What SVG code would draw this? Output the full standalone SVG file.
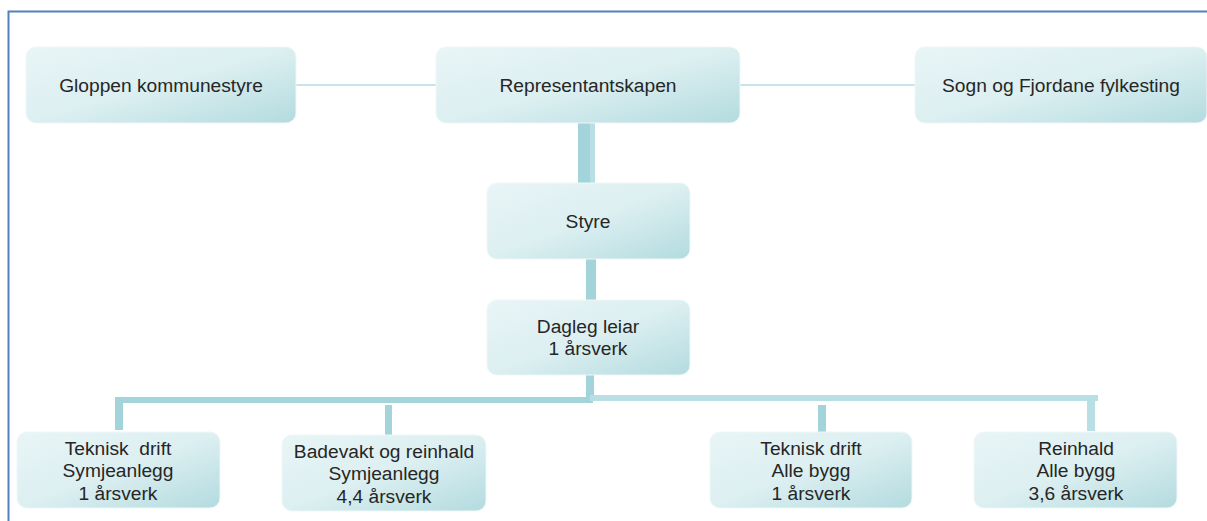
<svg xmlns="http://www.w3.org/2000/svg" width="1207" height="521" viewBox="0 0 1207 521">
<defs>
<linearGradient id="g" x1="0" y1="0" x2="1" y2="1">
<stop offset="0" stop-color="#e9f5f6"/>
<stop offset="0.5" stop-color="#dceff1"/>
<stop offset="1" stop-color="#b3dbdf"/>
</linearGradient>
<style>
.box{fill:url(#g);stroke:#eef7f8;stroke-width:1}
.t{font-family:"Liberation Sans",Arial,sans-serif;font-size:19.2px;fill:#262626;text-anchor:middle}
.thin{stroke:#b5dbe3;stroke-width:1.5;fill:none}
.thick{fill:#a2d4d9}
.light{fill:#b8e0e4}
</style>
</defs>
<rect width="1207" height="521" fill="#ffffff"/>
<path d="M8.5 521 V11.5 H1207" fill="none" stroke="#4f81bd" stroke-width="2"/>
<g id="connectors">
<line class="thin" x1="296" y1="85" x2="436" y2="85"/>
<line class="thin" x1="740" y1="85" x2="915" y2="85"/>
<rect class="thick" x="578" y="123" width="12" height="60"/>
<rect class="light" x="590" y="123" width="5" height="60"/>
<rect class="thick" x="586" y="258" width="10" height="42"/>
<rect class="thick" x="586" y="375" width="8" height="25"/>
<rect class="thick" x="115" y="397" width="478" height="6"/>
<rect class="light" x="590" y="395" width="508" height="6"/>
<rect class="thick" x="115" y="397" width="8" height="33"/>
<rect class="thick" x="385" y="405" width="7" height="30"/>
<rect class="thick" x="818" y="405" width="8" height="28"/>
<rect class="light" x="1087" y="399" width="8" height="32"/>
</g>
<g id="n1"><rect class="box" x="26" y="47" width="270" height="76" rx="10"/><text class="t" x="161" y="92">Gloppen kommunestyre</text></g>
<g id="n2"><rect class="box" x="436" y="47" width="304" height="76" rx="10"/><text class="t" x="588" y="92">Representantskapen</text></g>
<g id="n3"><rect class="box" x="915" y="47" width="292" height="76" rx="10"/><text class="t" x="1061" y="92">Sogn og Fjordane fylkesting</text></g>
<g id="n4"><rect class="box" x="487" y="183" width="203" height="76" rx="10"/><text class="t" x="588" y="228">Styre</text></g>
<g id="n5"><rect class="box" x="487" y="300" width="203" height="75" rx="10"/><text class="t" x="588" y="333">Dagleg leiar</text><text class="t" x="588" y="355">1 årsverk</text></g>
<g id="n6"><rect class="box" x="17" y="432" width="203" height="76" rx="10"/><text class="t" x="118" y="455" xml:space="preserve">Teknisk  drift</text><text class="t" x="118" y="477">Symjeanlegg</text><text class="t" x="118" y="500">1 årsverk</text></g>
<g id="n7"><rect class="box" x="282" y="435" width="204" height="76" rx="10"/><text class="t" x="384" y="458">Badevakt og reinhald</text><text class="t" x="384" y="480">Symjeanlegg</text><text class="t" x="384" y="503">4,4 årsverk</text></g>
<g id="n8"><rect class="box" x="710" y="432" width="202" height="76" rx="10"/><text class="t" x="811" y="455">Teknisk drift</text><text class="t" x="811" y="477">Alle bygg</text><text class="t" x="811" y="500">1 årsverk</text></g>
<g id="n9"><rect class="box" x="974" y="432" width="203" height="76" rx="10"/><text class="t" x="1076" y="455">Reinhald</text><text class="t" x="1076" y="477">Alle bygg</text><text class="t" x="1076" y="500">3,6 årsverk</text></g>
</svg>
